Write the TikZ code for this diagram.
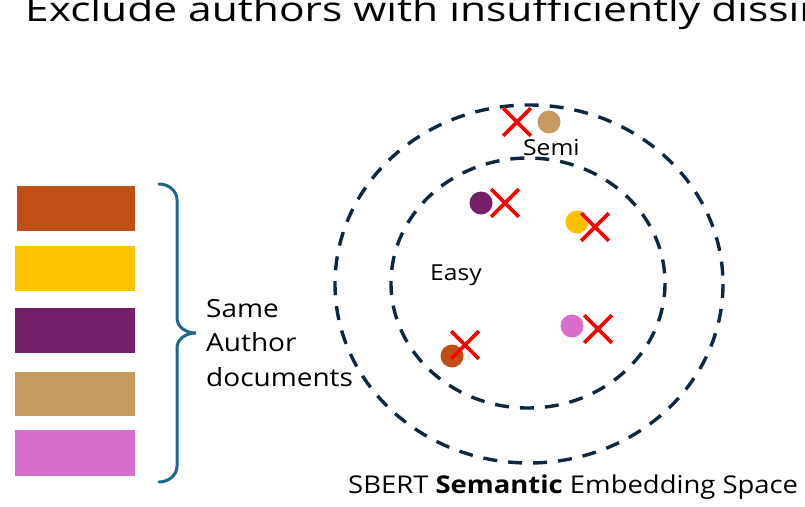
\documentclass[tikz,border=0pt]{standalone}
\usepackage{fontspec}
\setmainfont[FakeStretch=1.12]{Open Sans}
\newfontfamily\titlefont[FakeStretch=1.25]{Open Sans}
\usetikzlibrary{shapes.misc}
\definecolor{docorange}{HTML}{C04F15}
\definecolor{docyellow}{HTML}{FFC000}
\definecolor{docpurple}{HTML}{76206A}
\definecolor{doctan}{HTML}{C89A5F}
\definecolor{docpink}{HTML}{D86DCB}
\definecolor{bracecol}{HTML}{1D6888}
\definecolor{ringcol}{HTML}{0E2841}
\tikzset{
  doc/.style={rectangle, draw=none, fill=#1, inner sep=0pt,
    minimum width=118pt, minimum height=45pt},
  emb/.style={circle, fill=#1, inner sep=0pt, minimum size=23pt},
  reject/.style={cross out, draw=red, line width=3.6pt, inner sep=0pt,
    minimum size=24pt},
  ring/.style={draw=ringcol, line width=3.4pt, dash pattern=on 14pt off 11pt},
  lbl/.style={inner sep=0pt, font=\fontsize{25}{34.5}\selectfont},
}

\begin{document}
\begin{tikzpicture}[x=1pt,y=-1pt]
  \useasboundingbox (0,0) rectangle (805,506);

  % -- Title, running off the top and right edge.
  \node[inner sep=0pt, anchor=base west, font=\titlefont\fontsize{34}{40}\selectfont]
    (title) at (25,21) {Exclude authors with insufficiently dissimilar documents};

  % -- Document stack on the left.
  \node[doc=docorange, anchor=north west] (doc1) at (17,186) {};
  \node[doc=docyellow, anchor=north west, minimum width=120pt] (doc2) at (15,246) {};
  \node[doc=docpurple, anchor=north west, minimum width=120pt] (doc3) at (15,308) {};
  \node[doc=doctan, anchor=north west, minimum width=120pt, minimum height=44pt] (doc4) at (15,372) {};
  \node[doc=docpink, anchor=north west, minimum width=120pt, minimum height=46pt] (doc5) at (15,430) {};

  % -- The brace and its label.
  \draw[bracecol, line width=3pt, line cap=round]
    (159,184) to[out=0,in=90] (177,200) -- (177,318)
    to[out=-90,in=180] (196,333) to[out=180,in=90] (177,348)
    -- (177,466) to[out=-90,in=0] (159,482);
  \node[lbl, anchor=west, align=left] (same) at (206,343) {Same\\Author\\documents};

  % -- Embedding space: two dashed rings.
  \draw[ring] (529,284) ellipse [x radius=194, y radius=179];
  \draw[ring] (528,283) ellipse [x radius=137, y radius=125];

  % -- Embedded documents and the ones thrown out.
  \node[emb=doctan] (tan) at (549,122) {};
  \node[reject] (xtan) at (517,122) {};
  \node[emb=docpurple] (purple) at (481,203) {};
  \node[reject] (xpurple) at (505,203) {};
  \node[emb=docyellow] (yellow) at (577,222) {};
  \node[reject] (xyellow) at (595,227) {};
  \node[emb=docpink] (pink) at (572,326) {};
  \node[reject] (xpink) at (598,329) {};
  \node[emb=docorange] (orange) at (452,356) {};
  \node[reject] (xorange) at (465,345) {};

  % -- Ring labels.
  \node[lbl, anchor=base west, font=\fontsize{22}{26}\selectfont] (semi) at (523,155) {Semi};
  \node[lbl, anchor=base west, font=\fontsize{22}{26}\selectfont] (easy) at (430,280) {Easy};
  \node[lbl, anchor=base west, font=\fontsize{24.5}{28}\selectfont] (space) at (348,493)
    {SBERT \textbf{Semantic} Embedding Space};
\end{tikzpicture}
\end{document}
